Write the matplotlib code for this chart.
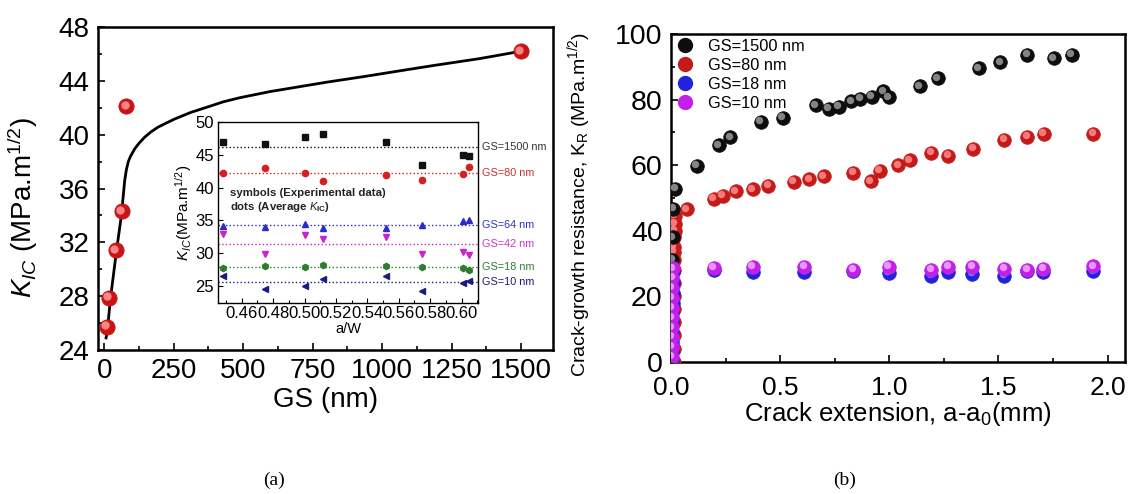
import matplotlib
matplotlib.use('Agg')
import matplotlib.pyplot as plt
from matplotlib.ticker import MultipleLocator
from matplotlib.transforms import offset_copy
from matplotlib.lines import Line2D

plt.rcParams['font.family'] = ['Liberation Sans', 'DejaVu Sans']
plt.rcParams['mathtext.fontset'] = 'custom'
plt.rcParams['mathtext.rm'] = 'Liberation Sans'
plt.rcParams['mathtext.it'] = 'Liberation Sans:italic'
plt.rcParams['mathtext.bf'] = 'Liberation Sans:bold'

# ---- panel (a): K_IC vs grain size ----
gs = [10, 18, 42, 64, 80, 1500]
kic = [25.7, 27.9, 31.4, 34.3, 42.1, 46.2]

fit_gs = [7, 12, 22, 44, 62, 68, 74, 80, 87, 95, 110, 125, 145, 168, 193,
          222, 252, 311, 371, 430, 489, 596, 669, 800, 929, 1050, 1188,
          1350, 1500]
fit_k = [24.9, 25.5, 27.7, 31.3, 34.0, 35.3, 36.6, 37.4, 38.0, 38.4, 38.95,
         39.35, 39.8, 40.2, 40.55, 40.85, 41.15, 41.65, 42.05, 42.45, 42.75,
         43.2, 43.45, 43.9, 44.3, 44.7, 45.15, 45.65, 46.2]

# inset: K_IC vs a/W for each grain size
aw = [0.448, 0.475, 0.500, 0.512, 0.552, 0.575, 0.601, 0.605]
inset_k = {
    1500: [47.0, 46.6, 47.7, 48.1, 47.0, 43.4, 45.0, 44.8],
    80: [42.3, 43.0, 42.2, 41.0, 41.9, 41.1, 42.1, 43.2],
    64: [34.1, 34.0, 34.5, 33.8, 33.9, 34.3, 34.9, 35.0],
    42: [32.9, 29.8, 32.8, 32.1, 32.5, 29.9, 30.2, 29.7],
    18: [27.7, 28.0, 27.9, 28.2, 28.1, 27.9, 27.8, 27.5],
    10: [26.5, 24.5, 25.0, 26.0, 26.5, 24.3, 25.4, 25.8],
}
inset_avg = {1500: 46.2, 80: 42.2, 64: 34.3, 42: 31.4, 18: 27.9, 10: 25.6}
inset_style = {
    1500: ('s', '#111111', '#333333'),
    80: ('o', '#d42020', '#d03030'),
    64: ('^', '#2a2ad0', '#3030c8'),
    42: ('v', '#cc22cc', '#cc33cc'),
    18: ('h', '#2e7d2e', '#2e7d2e'),
    10: ('<', '#1a1a80', '#1a1a80'),
}

# ---- panel (b): R-curves ----
b1500_x = [0.005, 0.006, 0.008, 0.011, 0.020, 0.117, 0.220, 0.272, 0.411,
           0.513, 0.663, 0.724, 0.769, 0.826, 0.867, 0.921, 0.973, 0.998,
           1.141, 1.222, 1.410, 1.508, 1.633, 1.755, 1.837]
b1500_y = [24.0, 31.0, 38.0, 46.7, 52.8, 59.7, 66.0, 68.5, 73.1, 74.4, 78.2,
           77.2, 77.7, 79.5, 80.2, 80.9, 82.5, 80.7, 84.0, 86.5, 89.5, 91.4,
           93.7, 92.6, 93.7]
b80_x = [0.012, 0.012, 0.012, 0.012, 0.012, 0.012, 0.012, 0.013, 0.013,
         0.014, 0.014, 0.015, 0.016, 0.017, 0.018, 0.072, 0.196, 0.236,
         0.297, 0.375, 0.445, 0.562, 0.634, 0.699, 0.835, 0.916, 0.957,
         1.042, 1.095, 1.193, 1.271, 1.385, 1.527, 1.633, 1.707, 1.935]
b80_y = [0.0, 4.0, 8.0, 12.0, 16.0, 20.0, 24.0, 28.0, 31.0, 33.5, 35.0,
         38.0, 40.0, 42.0, 44.5, 46.5, 49.7, 50.6, 52.0, 52.6, 53.6, 54.8,
         55.6, 56.6, 57.7, 55.0, 58.2, 59.9, 61.4, 63.7, 62.9, 65.0, 67.7,
         68.7, 69.5, 69.5]
b18_x = [0.006, 0.006, 0.006, 0.006, 0.006, 0.006, 0.007, 0.007, 0.008,
         0.009, 0.196, 0.375, 0.611, 0.835, 0.998, 1.193, 1.271, 1.381,
         1.527, 1.633, 1.706, 1.935]
b18_y = [0.0, 3.0, 6.0, 9.0, 12.0, 15.0, 18.0, 21.0, 24.0, 27.5, 27.9, 27.4,
         27.4, 27.6, 27.1, 26.3, 27.4, 26.9, 26.3, 27.7, 27.4, 27.6]
b10_x = [0.004, 0.004, 0.004, 0.004, 0.004, 0.005, 0.005, 0.005, 0.006,
         0.007, 0.196, 0.375, 0.611, 0.835, 0.998, 1.193, 1.271, 1.381,
         1.527, 1.633, 1.706, 1.935]
b10_y = [1.5, 4.5, 7.5, 10.5, 13.5, 16.5, 19.5, 22.5, 25.5, 28.5, 28.6, 28.9,
         28.9, 28.1, 28.9, 28.1, 28.9, 28.9, 28.4, 28.1, 28.4, 29.1]

fig = plt.figure(figsize=(11.28, 4.94), dpi=100)


def balls(ax, x, y, base, light, s, z=3):
    # shaded sphere look: dark disc plus an offset highlight
    ax.scatter(x, y, s=s, color=base, edgecolors=base, linewidths=0.6, zorder=z)
    tr = offset_copy(ax.transData, fig=fig, x=-1.2, y=1.2, units='points')
    ax.scatter(x, y, s=s * 0.3, color=light, linewidths=0, alpha=0.85,
               transform=tr, zorder=z + 0.1)


def style_axes(ax, lw=1.6):
    for sp in ax.spines.values():
        sp.set_linewidth(lw)
    ax.tick_params(which='both', direction='in', width=1.2)
    ax.tick_params(which='major', length=5)
    ax.tick_params(which='minor', length=3)


# panel (a)
axa = fig.add_axes([0.0869, 0.2915, 0.4034, 0.6538])
axa.plot(fit_gs, fit_k, color='black', lw=2.0, zorder=2)
balls(axa, gs, kic, '#c81414', '#ff9a9a', 120)
axa.set_xlim(-22, 1615)
axa.set_ylim(24, 48)
axa.xaxis.set_major_locator(MultipleLocator(250))
axa.xaxis.set_minor_locator(MultipleLocator(125))
axa.yaxis.set_major_locator(MultipleLocator(4))
axa.yaxis.set_minor_locator(MultipleLocator(2))
style_axes(axa, 1.8)
axa.tick_params(labelsize=20, pad=6)
axa.set_xlabel('GS (nm)', fontsize=20, labelpad=2)
axa.set_ylabel(r'$K_{IC}$ (MPa.m$^{1/2}$)', fontsize=20)
axa.yaxis.set_label_coords(-0.128, 0.44)

# inset
axi = fig.add_axes([0.1935, 0.3866, 0.2305, 0.3664])
for g in [1500, 80, 64, 42, 18, 10]:
    m, c, tc = inset_style[g]
    axi.axhline(inset_avg[g], color=c, ls=':', lw=1.0, zorder=1)
    axi.plot(aw, inset_k[g], ls='none', marker=m, ms=4.5, color=c, zorder=3)
    axi.text(1.014, inset_avg[g], 'GS=%d nm' % g, color=tc, fontsize=7.8,
             va='center', ha='left', transform=axi.get_yaxis_transform())
axi.set_xlim(0.4451, 0.6106)
axi.set_ylim(22.4, 50)
axi.xaxis.set_minor_locator(MultipleLocator(0.01))
axi.yaxis.set_major_locator(MultipleLocator(5))
axi.set_xticks([0.46, 0.48, 0.50, 0.52, 0.54, 0.56, 0.58, 0.60])
axi.set_xticklabels(['0.46', '0.48', '0.50', '0.52', '0.54', '0.56', '0.58', '0.60'])
for sp in axi.spines.values():
    sp.set_linewidth(1.0)
axi.tick_params(which='both', direction='in', width=0.8, labelsize=12, pad=3)
axi.tick_params(axis='x', pad=2)
axi.tick_params(which='major', length=3.5)
axi.tick_params(which='minor', length=2)
axi.set_xlabel('a/W', fontsize=10.5, labelpad=1)
axi.set_ylabel(r'$K_{IC}$(MPa.m$^{1/2}$)', fontsize=11, labelpad=1)
axi.text(0.045, 0.61, 'symbols (Experimental data)', transform=axi.transAxes,
         fontsize=8.2, fontweight='bold', va='center', color='#222222')
axi.text(0.045, 0.53, r'dots (Average $\mathbf{\mathit{K}_{IC}}$)',
         transform=axi.transAxes, fontsize=8.2, fontweight='bold',
         va='center', color='#222222')

# panel (b)
axb = fig.add_axes([0.5949, 0.2678, 0.4025, 0.6634])
balls(axb, b80_x, b80_y, '#c41a1a', '#ff8c8c', 95, z=3)
balls(axb, b1500_x, b1500_y, '#0d0d0d', '#9a9a9a', 95, z=4)
balls(axb, b18_x, b18_y, '#2222dd', '#9a9aff', 95, z=5)
balls(axb, b10_x, b10_y, '#c21fe8', '#f3aaff', 95, z=6)
axb.set_xlim(0, 2.08)
axb.set_ylim(0, 100)
axb.xaxis.set_major_locator(MultipleLocator(0.5))
axb.xaxis.set_minor_locator(MultipleLocator(0.25))
axb.yaxis.set_major_locator(MultipleLocator(20))
axb.yaxis.set_minor_locator(MultipleLocator(10))
style_axes(axb, 1.8)
axb.tick_params(axis='y', labelsize=20.5, pad=6)
axb.tick_params(axis='x', labelsize=19, pad=10)
axb.set_xlabel(r'Crack extension, a-a$_0$(mm)', fontsize=18.5, labelpad=0)
axb.set_ylabel(r'Crack-growth resistance, K$_\mathrm{R}$ (MPa.m$^{1/2}$)',
               fontsize=14)
axb.yaxis.set_label_coords(-0.172, 0.48)

handles = [Line2D([], [], ls='none', marker='o', ms=10, color=c)
           for c in ['#0d0d0d', '#c41a1a', '#2222dd', '#c21fe8']]
axb.legend(handles, ['GS=1500 nm', 'GS=80 nm', 'GS=18 nm', 'GS=10 nm'],
           loc='upper left', bbox_to_anchor=(-0.012, 1.02), frameon=False,
           fontsize=11.8, handlelength=1.0, handletextpad=0.9,
           labelspacing=0.25, borderaxespad=0.3)

# captions
fig.text(0.2429, 0.028, '(a)', family='Liberation Serif', fontsize=14,
         ha='center', va='center')
fig.text(0.749, 0.028, '(b)', family='Liberation Serif', fontsize=14,
         ha='center', va='center')

fig.savefig('out.png', dpi=100)
